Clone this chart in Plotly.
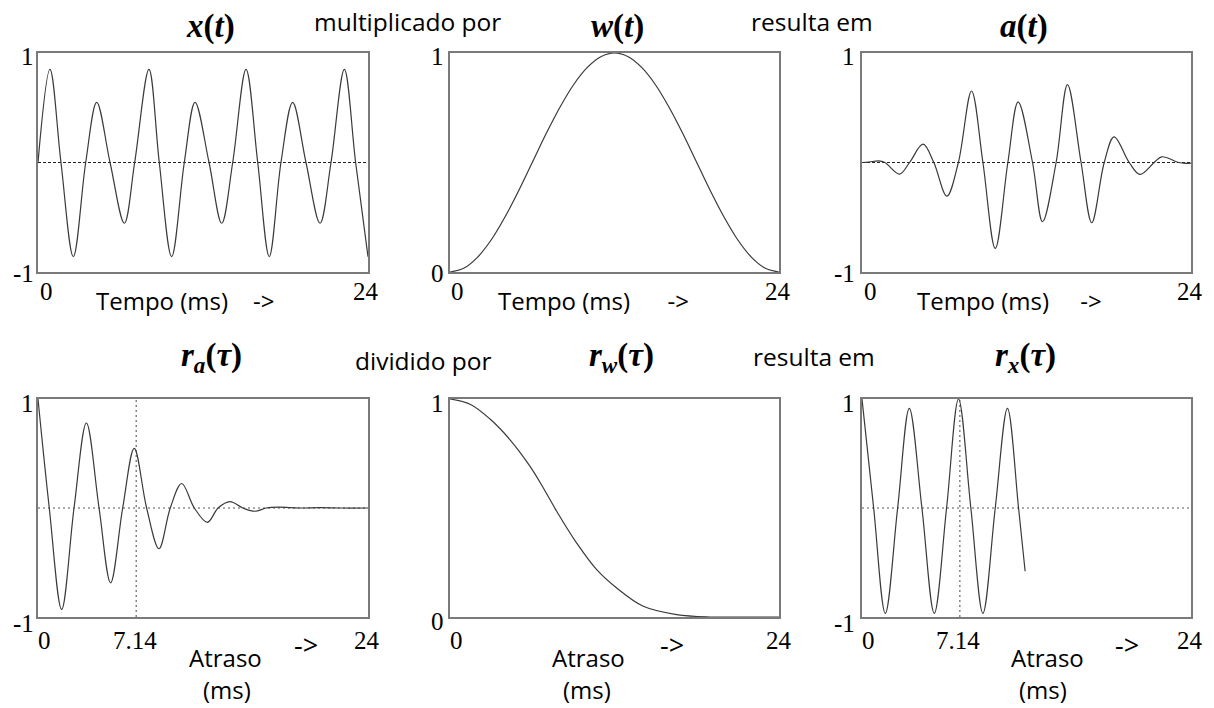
import plotly.graph_objects as go

W, H = 1214, 708

# ---------------- data ----------------
# x(t)
xt_t = [0, 0.87, 1.67, 2.57, 3.47, 4.27, 5.24, 6.28, 7.03, 8.07, 8.82, 9.72, 10.64, 11.42,
        12.44, 13.36, 14.16, 15.13, 15.98, 16.82, 17.67, 18.52, 19.49, 20.51, 21.31, 22.28, 23.1, 24]
xt_v = [0, 0.85, 0, -0.86, 0, 0.55, 0, -0.555, 0, 0.85, 0, -0.86, 0, 0.55,
        0, -0.555, 0, 0.85, 0, -0.86, 0, 0.55, 0, -0.555, 0, 0.85, 0, -0.86]

# w(t)
wt_t = [0, 1, 2, 3, 4, 5, 6, 7, 8, 9, 10, 11, 12, 13, 14, 15, 16, 17, 18, 19, 20, 21, 22, 23, 24]
wt_v = [0, 0.017, 0.067, 0.146, 0.25, 0.37, 0.5, 0.63, 0.75, 0.854, 0.933, 0.983, 1.0,
        0.983, 0.933, 0.854, 0.75, 0.63, 0.5, 0.37, 0.25, 0.146, 0.067, 0.017, 0]

# a(t)
at_t = [0, 0.5, 1.21, 1.67, 2.74, 3.47, 4.45, 5.24, 6.19, 7.03, 7.99, 8.82, 9.72, 10.64, 11.39,
        12.44, 13.17, 14.16, 14.99, 15.98, 16.76, 17.67, 18.39, 19.49, 20.28, 21.31, 21.86, 23.1, 23.6, 24]
at_v = [0, 0.004, 0.015, 0, -0.106, 0, 0.167, 0, -0.307, 0, 0.653, 0, -0.784, 0, 0.553,
        0, -0.541, 0, 0.711, 0, -0.55, 0, 0.234, 0, -0.109, 0, 0.052, 0, -0.008, -0.005]

# r_a(tau)
ra_t = [0, 0.82, 1.72, 2.62, 3.52, 4.44, 5.28, 6.16, 7.0, 7.9, 8.8, 9.62, 10.45, 11.37, 12.32,
        13.1, 13.96, 14.9, 15.78, 16.6, 17.5, 19.0, 20.5, 22.0, 24]
ra_v = [1, 0, -0.93, 0, 0.78, 0, -0.687, 0, 0.547, 0, -0.374, 0, 0.225, 0, -0.131,
        0, 0.058, 0, -0.03, 0, 0.008, 0, 0.003, 0, 0]

# r_w(tau)
rw_t = [0, 1.5, 2.92, 4.38, 5.84, 6.81, 7.78, 9.24, 10.7, 12.16, 14.1, 16.53, 18.97, 21.5, 24]
rw_v = [1, 0.975, 0.908, 0.813, 0.691, 0.592, 0.485, 0.339, 0.217, 0.133, 0.049, 0.011, 0.0, 0, 0]

# r_x(tau)
rx_t = [0, 0.85, 1.7, 2.6, 3.45, 4.37, 5.27, 6.17, 7.04, 7.94, 8.82, 9.72, 10.61, 11.42, 11.9]
rx_v = [1, 0, -0.966, 0, 0.914, 0, -0.966, 0, 1.0, 0, -0.966, 0, 0.914, 0, -0.58]

period_ms = 7.14
t_max = 24

# ---------------- layout helpers ----------------
def px_x(p):
    return p / W

def px_y(p):
    return 1 - p / H

col_px = [(38, 368), (450, 779), (862, 1191)]
row_px = [(53, 272), (399, 617)]

panels = [
    (xt_t, xt_v, (-1, 1), 0, 0),
    (wt_t, wt_v, (0, 1), 0, 1),
    (at_t, at_v, (-1, 1), 0, 2),
    (ra_t, ra_v, (-1, 1), 1, 0),
    (rw_t, rw_v, (0, 1), 1, 1),
    (rx_t, rx_v, (-1, 1), 1, 2),
]

fig = go.Figure()
layout = dict(width=W, height=H, margin=dict(l=0, r=0, t=0, b=0),
              paper_bgcolor="white", plot_bgcolor="white", showlegend=False)
shapes = []
annotations = []

CURVE = "#3a3a3a"
FRAME = "#7a7a7a"

for i, (tx, vy, yr, r, c) in enumerate(panels, start=1):
    xa = "xaxis" if i == 1 else f"xaxis{i}"
    ya = "yaxis" if i == 1 else f"yaxis{i}"
    xr = "x" if i == 1 else f"x{i}"
    yrf = "y" if i == 1 else f"y{i}"
    x0, x1 = col_px[c]
    y0, y1 = row_px[r]
    layout[xa] = dict(domain=[px_x(x0), px_x(x1)], range=[0, t_max], anchor=yrf,
                      showgrid=False, zeroline=False, showticklabels=False, ticks="",
                      showline=True, mirror=True, linecolor=FRAME, linewidth=1.5)
    layout[ya] = dict(domain=[px_y(y1), px_y(y0)], range=list(yr), anchor=xr,
                      showgrid=False, zeroline=False, showticklabels=False, ticks="",
                      showline=True, mirror=True, linecolor=FRAME, linewidth=1.5)
    # zero reference line
    if yr[0] < 0:
        dash = "3px,2px" if r == 0 else "2px,3px"
        col = "#222222" if r == 0 else "#555555"
        shapes.append(dict(type="line", xref=xr, yref=yrf, x0=0, x1=t_max, y0=0, y1=0,
                           line=dict(color=col, width=1, dash=dash), layer="below"))
    if r == 1 and c in (0, 2):
        shapes.append(dict(type="line", xref=xr, yref=yrf, x0=period_ms, x1=period_ms, y0=-1, y1=1,
                           line=dict(color="#444444", width=1, dash="2px,3px"), layer="below"))
    fig.add_trace(go.Scatter(x=tx, y=vy, mode="lines", xaxis=xr, yaxis=yrf,
                             line=dict(color=CURVE, width=1.2, shape="spline", smoothing=1.0),
                             hoverinfo="skip"))

SERIF = "Liberation Serif"
SANS = "Open Sans"

def txt(text, x, y, size, family=SERIF, xanchor="center", color="black", weight="normal"):
    annotations.append(dict(text=text, x=px_x(x), y=px_y(y), xref="paper", yref="paper",
                            xanchor=xanchor, yanchor="middle", showarrow=False,
                            font=dict(family=family, size=size, color=color, weight=weight)))

# titles
TS = 33
txt("<i>x</i>(<i>t</i>)", 210, 26, TS, weight="bold")
txt("<i>w</i>(<i>t</i>)", 617, 26, TS, weight="bold")
txt("<i>a</i>(<i>t</i>)", 1024, 26, TS, weight="bold")
txt("<i>r</i><sub><i>a</i></sub>(<i>τ</i>)", 211, 357, TS, weight="bold")
txt("<i>r</i><sub><i>w</i></sub>(<i>τ</i>)", 621, 357, TS, weight="bold")
txt("<i>r</i><sub><i>x</i></sub>(<i>τ</i>)", 1025, 357, TS, weight="bold")

# connector words
CS = 24.5
txt("multiplicado por", 407, 22, CS, SANS)
txt("resulta em", 812, 22, CS, SANS)
txt("dividido por", 423, 360, CS, SANS)
txt("resulta em", 814, 356, CS, SANS)

# y tick labels
NS = 25
for (right, ytop, ybot, lt, lb) in [(36, 56, 273, "1", "-1"), (446, 56, 274, "1", "0"), (857, 56, 273, "1", "-1"),
                                    (36, 403, 623, "1", "-1"), (446, 403, 621, "1", "0"), (857, 403, 623, "1", "-1")]:
    txt(lt, right, ytop, NS, xanchor="right")
    txt(lb, right, ybot, NS, xanchor="right")

# x tick labels
for (x0l, x24, yy) in [(46, 366, 291), (457, 778, 291), (871, 1190, 291),
                       (44, 367, 640), (456, 779, 640), (868, 1190, 640)]:
    txt("0", x0l, yy, NS)
    txt("24", x24, yy, NS)
txt("7.14", 135, 640, NS)
txt("7.14", 958, 640, NS)

# axis words
AS = 24
NB = "&nbsp;"
for (left, gap) in [(94, 4), (496, 6), (915, 5)]:
    txt("Tempo (ms)" + NB * gap + "->", left, 300, AS, SANS, xanchor="left")
for (cx, cx2, ax) in [(225, 227, 306), (588, 587, 672), (1047, 1043, 1127)]:
    txt("Atraso", cx, 657, AS, SANS)
    txt("(ms)", cx2, 689, AS, SANS)
    txt("->", ax, 644, 27, SANS)

layout["shapes"] = shapes
layout["annotations"] = annotations
fig.update_layout(**layout)
fig.write_html("out.html")
